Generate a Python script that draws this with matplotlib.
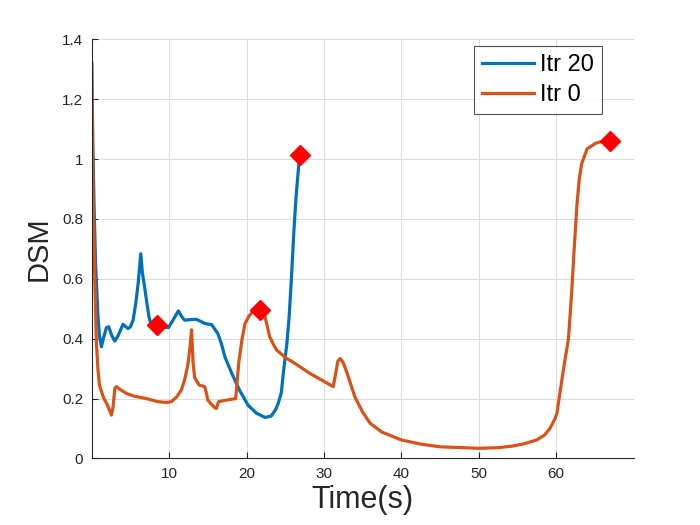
import matplotlib
matplotlib.use('Agg')
import matplotlib.pyplot as plt

plt.rcParams['font.family'] = ['Liberation Sans', 'DejaVu Sans']

# Itr 0 curve (orange)
t0 = [0.0, 0.1, 0.2, 0.4, 0.6, 0.8, 1.0, 1.5, 2.0, 2.55, 2.75, 3.0, 3.2, 3.6,
      4.5, 5.5, 7.1, 8.5, 9.7, 10.3, 11.0, 11.6, 12.0, 12.4, 12.7, 12.9, 13.1,
      13.3, 13.9, 14.6, 14.8, 15.0, 15.5, 15.9, 16.1, 16.4, 17.4, 18.6, 18.8,
      19.0, 19.4, 19.8, 20.3, 20.9, 21.7, 22.1, 22.4, 22.7, 23.0, 23.5, 23.9,
      25.2, 26.0, 28.2, 31.2, 31.5, 31.8, 32.1, 32.5, 33.0, 34.0, 35.0, 36.0,
      37.5, 40.0, 42.5, 45.0, 50.0, 52.5, 54.5, 56.0, 57.5, 58.5, 59.2, 59.8,
      60.1, 60.5, 61.0, 61.6, 62.0, 62.3, 62.7, 63.0, 63.3, 64.0, 65.1, 65.9,
      67.0]
dsm0 = [1.32, 1.0, 0.85, 0.6, 0.39, 0.3, 0.245, 0.205, 0.18, 0.145, 0.17, 0.235,
        0.24, 0.232, 0.217, 0.208, 0.2, 0.19, 0.187, 0.19, 0.206, 0.23, 0.262,
        0.31, 0.37, 0.43, 0.32, 0.27, 0.245, 0.24, 0.22, 0.195, 0.18, 0.17,
        0.167, 0.19, 0.195, 0.2, 0.26, 0.32, 0.395, 0.45, 0.475, 0.493, 0.498,
        0.49, 0.473, 0.44, 0.406, 0.38, 0.362, 0.334, 0.322, 0.284, 0.24, 0.28,
        0.325, 0.334, 0.32, 0.285, 0.206, 0.155, 0.117, 0.088, 0.062, 0.048,
        0.039, 0.034, 0.036, 0.042, 0.05, 0.062, 0.078, 0.1, 0.13, 0.15, 0.22,
        0.306, 0.4, 0.55, 0.684, 0.85, 0.935, 0.984, 1.034, 1.053, 1.059, 1.06]

# Itr 20 curve (blue)
t20 = [0.0, 0.15, 0.3, 0.5, 0.8, 1.0, 1.25, 1.5, 1.9, 2.2, 2.6, 2.98, 3.4, 4.05,
       4.4, 4.7, 5.0, 5.35, 5.7, 6.0, 6.34, 6.55, 6.77, 7.08, 7.4, 7.7, 8.45,
       9.2, 9.9, 10.5, 11.2, 11.6, 12.0, 12.9, 13.5, 14.0, 14.6, 15.5, 16.3,
       16.8, 17.2, 18.1, 19.1, 20.2, 21.3, 22.4, 23.2, 23.8, 24.1, 24.5, 24.75,
       25.2, 25.5, 25.8, 26.1, 26.4, 26.8, 26.9]
dsm20 = [1.32, 1.05, 0.85, 0.65, 0.48, 0.41, 0.373, 0.4, 0.437, 0.44, 0.41,
         0.392, 0.41, 0.448, 0.44, 0.434, 0.44, 0.462, 0.52, 0.584, 0.684, 0.62,
         0.584, 0.528, 0.473, 0.445, 0.44, 0.44, 0.437, 0.462, 0.493, 0.475,
         0.462, 0.464, 0.465, 0.459, 0.451, 0.447, 0.417, 0.38, 0.34, 0.284,
         0.228, 0.178, 0.151, 0.137, 0.142, 0.165, 0.184, 0.22, 0.284, 0.38,
         0.47, 0.6, 0.75, 0.873, 0.995, 1.015]

# red diamond markers
mark_t = [8.45, 21.7, 26.9, 67.0]
mark_dsm = [0.445, 0.497, 1.015, 1.06]

xticks = [10, 20, 30, 40, 50, 60]
yticks = [0, 0.2, 0.4, 0.6, 0.8, 1.0, 1.2, 1.4]
ytick_labels = ['0', '0.2', '0.4', '0.6', '0.8', '1', '1.2', '1.4']

fig = plt.figure(figsize=(7, 5.25), dpi=100)
ax = fig.add_axes([0.131, 0.1267, 0.774, 0.7983])

ax.plot(t20, dsm20, color='#0072BD', lw=2.3, label='Itr 20')
ax.plot(t0, dsm0, color='#D95319', lw=2.3, label='Itr 0')
ax.plot(mark_t, mark_dsm, 'D', color='red', ms=10, mec='red', zorder=5)

ax.set_xlim(0, 70)
ax.set_ylim(0, 1.4)
ax.set_xticks(xticks)
ax.set_yticks(yticks)
ax.set_yticklabels(ytick_labels)
ax.grid(True, color='#dcdcdc', lw=0.7)
ax.set_axisbelow(True)
for s in ['top', 'right']:
    ax.spines[s].set_visible(False)
for s in ['left', 'bottom']:
    ax.spines[s].set_linewidth(0.8)
    ax.spines[s].set_color('#262626')
ax.tick_params(direction='in', length=4, width=0.8, colors='#262626',
               labelsize=11, pad=6)

ax.set_xlabel('Time(s)', fontsize=22, color='#262626', labelpad=3)
ax.set_ylabel('DSM', fontsize=21, color='#262626', labelpad=7)

leg = ax.legend(loc='upper right', bbox_to_anchor=(0.942, 0.985), fontsize=17,
                frameon=True, fancybox=False, edgecolor='#262626',
                handlelength=2.2, handletextpad=0.25, borderpad=0.35,
                labelspacing=0.35, borderaxespad=0)
leg.get_frame().set_linewidth(0.8)

fig.savefig('out.png', dpi=100)
